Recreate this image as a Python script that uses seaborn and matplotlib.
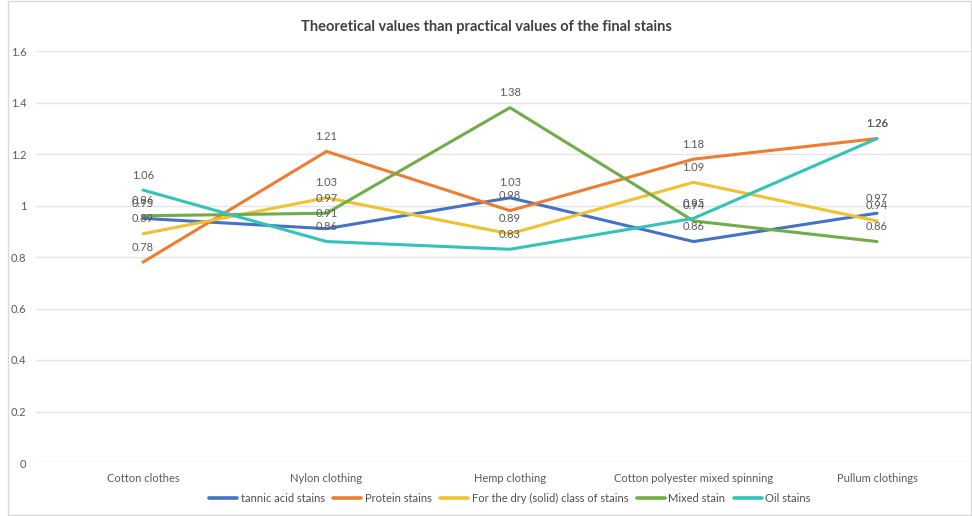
import matplotlib
matplotlib.use("Agg")
import matplotlib.pyplot as plt
import seaborn as sns
import pandas as pd
from matplotlib.patches import Rectangle

categories = ["Cotton clothes", "Nylon clothing", "Hemp clothing",
              "Cotton polyester mixed spinning", "Pullum clothings"]
series_names = ["tannic acid stains", "Protein stains",
                "For the dry (solid) class of stains", "Mixed stain", "Oil stains"]
tannic_acid = [0.95, 0.91, 1.03, 0.86, 0.97]
protein = [0.78, 1.21, 0.98, 1.18, 1.26]
dry_solid = [0.89, 1.03, 0.89, 1.09, 0.94]
mixed = [0.96, 0.97, 1.38, 0.94, 0.86]
oil = [1.06, 0.86, 0.83, 0.95, 1.26]
y_ticks = [0, 0.2, 0.4, 0.6, 0.8, 1, 1.2, 1.4, 1.6]

colors = ["#4472C4", "#ED7D31", "#F2C12E", "#70AD47", "#33C3BA"]

values = [tannic_acid, protein, dry_solid, mixed, oil]
rows = []
for name, vals in zip(series_names, values):
    for i, v in enumerate(vals):
        rows.append({"pos": i, "category": categories[i], "series": name, "value": v})
df = pd.DataFrame(rows)

sns.set_theme(style="white")
plt.rcParams["font.family"] = ["Lato", "DejaVu Sans"]

fig = plt.figure(figsize=(9.72, 5.16), dpi=100)
ax = fig.add_axes([36 / 972, 53 / 516, 934 / 972, 412 / 516])

sns.lineplot(data=df, x="pos", y="value", hue="series", hue_order=series_names,
             palette=colors, linewidth=2.2, ax=ax, legend=True, sort=False)

# value labels above each point
for name, vals in zip(series_names, values):
    for i, v in enumerate(vals):
        ax.annotate(f"{v:g}", (i, v), xytext=(0, 15), textcoords="offset pixels",
                    ha="center", va="center", fontsize=8, color="#595959")

ax.set_ylim(0, 1.6)
ax.set_xlim(-0.583, 4.507)
ax.set_yticks(y_ticks)
ax.set_yticklabels([f"{t:g}" for t in y_ticks])
ax.set_xticks(range(len(categories)))
ax.set_xticklabels(categories)
ax.tick_params(axis="both", length=0, labelsize=8, labelcolor="#595959")
ax.tick_params(axis="y", pad=7)
ax.tick_params(axis="x", pad=7)
ax.grid(axis="y", color="#E4E4E4", linewidth=1.0)
ax.set_axisbelow(True)
for s in ax.spines.values():
    s.set_visible(False)
ax.set_xlabel("")
ax.set_ylabel("")

handles, labels = ax.get_legend_handles_labels()
leg = ax.legend(handles, labels, loc="center", bbox_to_anchor=(510 / 972, 1 - 498 / 516),
                bbox_transform=fig.transFigure, ncol=5, frameon=False, fontsize=8,
                handlelength=2.5, handletextpad=0.35, columnspacing=0.75,
                labelcolor="#505050")
for line in leg.get_lines():
    line.set_linewidth(2.6)

fig.text(486 / 972, 1 - 27 / 516, "Theoretical values than practical values of the final stains",
         ha="center", va="center", fontsize=10.5, fontweight="bold", color="#404040")

fig.patches.append(Rectangle((8 / 972, 1 / 516), 963 / 972, 514 / 516,
                             transform=fig.transFigure, fill=False,
                             edgecolor="#D9D9D9", linewidth=1.0))

fig.savefig("out.png", dpi=100, facecolor="white")
